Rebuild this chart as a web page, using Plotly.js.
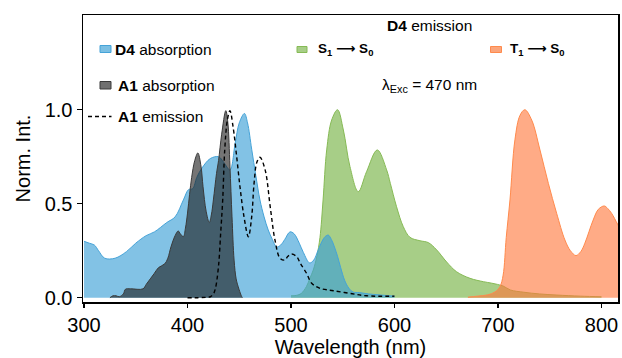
<!DOCTYPE html>
<html>
<head>
<meta charset="utf-8">
<script src="https://cdn.plot.ly/plotly-3.0.1.min.js"></script>
<style>html,body{margin:0;padding:0;background:#fff;}#chart{width:622px;height:358px;}</style>
</head>
<body>
<div id="chart"></div>
<script>
// D4 absorption
const d4AbsWl  = [300,305,310,314,320,330,341,350,360,368,380,388,396,401,405,409,414,422,430,435,441,446,450,455,458,462,466,470,474,478,482,486,490,494,499,503,508,512,518,522,526,530,533,536,539,542,545,548,552,556,560,566,575,585,600];
const d4AbsVal = [0.30,0.29,0.28,0.25,0.21,0.21,0.245,0.29,0.33,0.35,0.40,0.43,0.52,0.575,0.58,0.64,0.69,0.74,0.75,0.72,0.68,0.82,0.93,0.98,0.93,0.79,0.65,0.52,0.43,0.36,0.31,0.27,0.28,0.31,0.35,0.34,0.29,0.24,0.185,0.20,0.25,0.30,0.325,0.333,0.31,0.27,0.22,0.16,0.09,0.05,0.03,0.027,0.02,0.015,0.008];
// A1 absorption
const a1AbsWl  = [325,328,331,334,338,340,345,357,360,364,368,372,378,381,384,388,391,393,396,398,400,402,404,407,410,413,415,418,421,423,425,428,430,433,437,439,441,443,445,447,449,452,453];
const a1AbsVal = [0,0.01,0.01,0.005,0.02,0.045,0.047,0.047,0.07,0.10,0.13,0.16,0.18,0.21,0.27,0.33,0.355,0.34,0.325,0.37,0.45,0.55,0.64,0.73,0.77,0.70,0.59,0.46,0.40,0.44,0.52,0.66,0.73,0.87,0.995,0.93,0.70,0.43,0.20,0.10,0.058,0.01,0];
// A1 emission
const a1EmWl  = [400,410,418,422,425,427,430,432,434,436,438.5,441,444,447.5,450.7,454.6,458.8,462,464.3,467,470,475,480,484.5,489.4,494,497,500.6,505.5,509,515,520,528,541,557,573,600];
const a1EmVal = [0,0,0.002,0.005,0.02,0.05,0.17,0.34,0.52,0.79,0.945,0.995,0.91,0.75,0.59,0.43,0.324,0.43,0.608,0.72,0.747,0.68,0.48,0.307,0.21,0.20,0.22,0.232,0.218,0.183,0.13,0.077,0.05,0.037,0.023,0.01,0.008];
// D4 emission S1 -> S0
const s1Wl  = [500,505,510,515,518,521.5,525,528,531,534.5,539.3,545,550.6,557,565,573,583.4,592.4,596,602,608.5,615,624.6,632.7,640.8,650.4,660,673,686,694,705,712,725,740,757,780,800];
const s1Val = [0.01,0.012,0.023,0.06,0.10,0.147,0.22,0.32,0.52,0.786,0.945,1.0,0.892,0.697,0.564,0.67,0.786,0.68,0.608,0.484,0.378,0.321,0.303,0.293,0.254,0.19,0.138,0.103,0.085,0.077,0.062,0.041,0.029,0.02,0.014,0.008,0.005];
// D4 emission T1 -> S0
const t1Wl  = [671,680,690,697,702,705,708,711.6,716.4,721.3,726,732.6,740.6,748.7,756.7,764.7,770,775.4,780,784,792,797,802.7,806,809.8,816,825];
const t1Val = [0.003,0.008,0.015,0.03,0.06,0.12,0.32,0.52,0.84,0.97,1.0,0.945,0.786,0.608,0.449,0.307,0.25,0.224,0.245,0.29,0.413,0.47,0.488,0.475,0.449,0.387,0.30];

const xTicks = [300,400,500,600,700,800];
const yTicks = [0,0.5,1.0];
const yTickText = ['0.0','0.5','1.0'];

const FONT = 'Liberation Sans, Arial, DejaVu Sans, sans-serif';

const traces = [
  {x:s1Wl, y:s1Val, type:'scatter', mode:'lines', fill:'tozeroy', line:{shape:'spline', color:'#86ba55', width:1}, fillcolor:'rgba(120,180,70,0.65)', name:'S1->S0'},
  {x:d4AbsWl, y:d4AbsVal, type:'scatter', mode:'lines', fill:'tozeroy', line:{shape:'spline', color:'#45a3d8', width:1}, fillcolor:'rgba(60,160,215,0.64)', name:'D4 absorption'},
  {x:a1AbsWl, y:a1AbsVal, type:'scatter', mode:'lines', fill:'tozeroy', line:{shape:'spline', color:'#3a3a3a', width:1}, fillcolor:'rgba(25,25,25,0.6)', name:'A1 absorption'},
  {x:t1Wl, y:t1Val, type:'scatter', mode:'lines', fill:'tozeroy', line:{shape:'spline', color:'#ff8a4c', width:1}, fillcolor:'rgba(255,120,60,0.62)', name:'T1->S0'},
  {x:a1EmWl, y:a1EmVal, type:'scatter', mode:'lines', line:{shape:'spline', color:'#000', width:1.4, dash:'4px,3px'}, name:'A1 emission'}
];

function px2x(px){ return (px-83)/535; }
function py2y(py){ return (302-py)/287; }

const shapes = [
  {type:'rect', xref:'paper', yref:'paper', x0:px2x(100), x1:px2x(111), y0:py2y(52.5), y1:py2y(45.5), fillcolor:'#7bbfe3', line:{color:'#45a3d8', width:1}},
  {type:'rect', xref:'paper', yref:'paper', x0:px2x(100), x1:px2x(111), y0:py2y(89), y1:py2y(81.5), fillcolor:'#707070', line:{color:'#3a3a3a', width:1}},
  {type:'line', xref:'paper', yref:'paper', x0:px2x(88), x1:px2x(111.5), y0:py2y(116.5), y1:py2y(116.5), line:{color:'#000', width:1.4, dash:'4px,3px'}},
  {type:'rect', xref:'paper', yref:'paper', x0:px2x(297), x1:px2x(307), y0:py2y(52.5), y1:py2y(46.5), fillcolor:'#a7ce87', line:{color:'#86ba55', width:1}},
  {type:'rect', xref:'paper', yref:'paper', x0:px2x(490.5), x1:px2x(501.5), y0:py2y(52.5), y1:py2y(46.5), fillcolor:'#fba57b', line:{color:'#ff8a4c', width:1}}
];

function ann(px, py, text, size, anchor){
  return {xref:'paper', yref:'paper', x:px2x(px), y:py2y(py), text:text, showarrow:false,
          xanchor:anchor||'left', yanchor:'middle', font:{family:FONT, size:size, color:'#000'}};
}

const annotations = [
  ann(113, 49, '<b>D4</b> absorption', 15.5),
  ann(115.5, 85, '<b>A1</b> absorption', 15.5),
  ann(115.5, 116, '<b>A1</b> emission', 15.5),
  ann(429, 25, '<b>D4</b> emission', 15.5, 'center'),
  ann(315.5, 49, '<b>S<sub>1</sub> ⟶ S<sub>0</sub></b>', 13.5),
  ann(507.5, 49, '<b>T<sub>1</sub> ⟶ S<sub>0</sub></b>', 13.5),
  ann(379.5, 86, 'λ<sub>Exc</sub> = 470 nm', 15.5)
];

const layout = {
  width:622, height:358,
  margin:{l:83, r:4, t:15, b:56, pad:0},
  paper_bgcolor:'#fff', plot_bgcolor:'#fff',
  showlegend:false,
  font:{family:FONT, size:20, color:'#000'},
  xaxis:{range:[299,816], tickvals:xTicks, ticks:'outside', ticklen:4, tickwidth:1.3, tickcolor:'#000',
         showline:true, linecolor:'#000', linewidth:1.5, mirror:true, showgrid:false, zeroline:false,
         tickfont:{family:FONT, size:20, color:'#000'},
         title:{text:'Wavelength (nm)', font:{family:FONT, size:20, color:'#000'}, standoff:6}},
  yaxis:{range:[-0.023,1.504], tickvals:yTicks, ticktext:yTickText, ticks:'outside', ticklen:5, tickwidth:1.3, tickcolor:'#000',
         showline:true, linecolor:'#000', linewidth:1.5, mirror:true, showgrid:false, zeroline:false,
         tickfont:{family:FONT, size:20, color:'#000'},
         title:{text:'Norm. Int.', font:{family:FONT, size:20, color:'#000'}, standoff:8}},
  shapes:shapes,
  annotations:annotations
};

Plotly.newPlot('chart', traces, layout, {staticPlot:true, displayModeBar:false});
</script>
</body>
</html>
